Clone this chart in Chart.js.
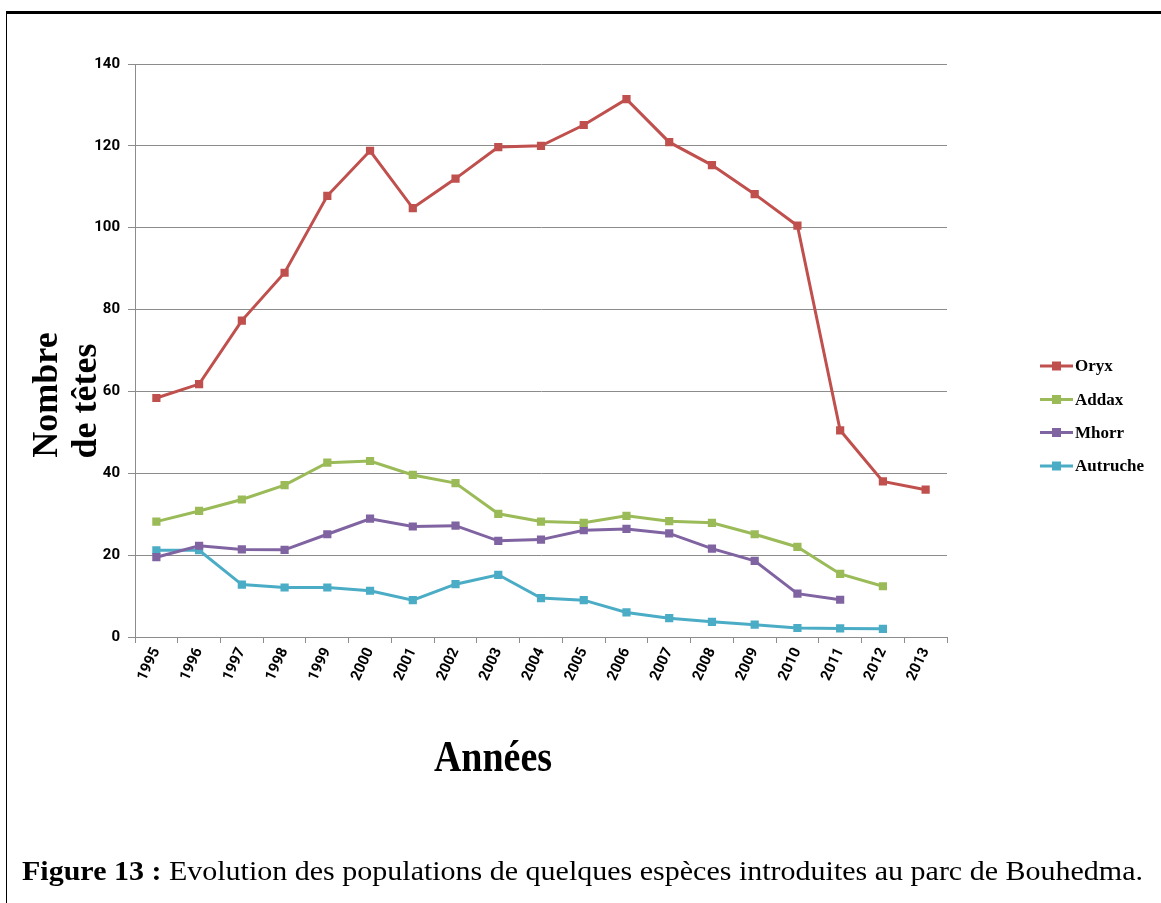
<!DOCTYPE html>
<html>
<head>
<meta charset="utf-8">
<script src="https://cdn.jsdelivr.net/npm/chart.js@4.4.1/dist/chart.umd.min.js"></script>
<style>
  html, body { margin: 0; padding: 0; background: #fff; }
  #c { display: block; }
</style>
</head>
<body>
<canvas id="c" width="1161" height="903"></canvas>
<script>
// ---- data ----
const years = ['1995','1996','1997','1998','1999','2000','2001','2002','2003','2004','2005','2006','2007','2008','2009','2010','2011','2012','2013'];
const oryx     = [58.4, 61.8, 77.3, 89.0, 107.8, 118.8, 104.8, 112.0, 119.7, 120.0, 125.1, 131.4, 120.9, 115.3, 108.2, 100.5, 50.5, 38.0, 36.0];
const addax    = [28.2, 30.8, 33.6, 37.1, 42.6, 43.0, 39.6, 37.6, 30.1, 28.2, 27.9, 29.6, 28.3, 27.9, 25.1, 22.0, 15.4, 12.4, null];
const mhorr    = [19.5, 22.3, 21.4, 21.3, 25.1, 28.9, 27.0, 27.2, 23.5, 23.8, 26.1, 26.4, 25.3, 21.6, 18.6, 10.6, 9.1, null, null];
const autruche = [21.2, 21.2, 12.8, 12.1, 12.1, 11.3, 9.0, 12.9, 15.2, 9.5, 9.0, 6.0, 4.6, 3.7, 3.0, 2.2, 2.1, 2.0, null];
const seriesNames = ['Oryx', 'Addax', 'Mhorr', 'Autruche'];
const yTicks = [0, 20, 40, 60, 80, 100, 120, 140];

const colors = ['#C0504D', '#9BBB59', '#8064A2', '#4BACC6'];
const values = [oryx, addax, mhorr, autruche];
const gridColor = '#8c8c8c';
const tickFont = { family: "'Liberation Sans Narrow', 'Arial Narrow', Roboto, sans-serif", size: 15, weight: 'bold' };

function zeroPad(s) { s.paddingTop = 0; s.paddingBottom = 0; s.paddingLeft = 0; s.paddingRight = 0; }

const decor = {
  id: 'decor',
  beforeDraw(chart) {
    const ctx = chart.ctx;
    ctx.save();
    ctx.fillStyle = '#fff';
    ctx.fillRect(0, 0, chart.width, chart.height);
    ctx.restore();
  },
  afterDraw(chart) {
    const ctx = chart.ctx;
    ctx.save();
    // frame
    ctx.fillStyle = '#000';
    ctx.fillRect(6, 11, 1161 - 6, 3);
    ctx.fillRect(6, 11, 1, 903 - 11);

    // legend
    ctx.textBaseline = 'middle';
    ctx.textAlign = 'left';
    ctx.font = "bold 17px 'Liberation Serif', 'Times New Roman', serif";
    const ly = [366, 399.5, 432.5, 466];
    seriesNames.forEach((name, i) => {
      const y = ly[i];
      ctx.strokeStyle = colors[i];
      ctx.lineWidth = 3;
      ctx.beginPath();
      ctx.moveTo(1040, y);
      ctx.lineTo(1073, y);
      ctx.stroke();
      ctx.fillStyle = colors[i];
      ctx.fillRect(1052, y - 4.5, 9, 9);
      ctx.fillStyle = '#000';
      ctx.fillText(name, 1075, y + 1);
    });

    // y axis title
    ctx.fillStyle = '#000';
    ctx.font = "bold 36px 'Liberation Serif', 'Times New Roman', serif";
    ctx.textAlign = 'center';
    ctx.textBaseline = 'alphabetic';
    ctx.save();
    ctx.translate(57, 395);
    ctx.rotate(-Math.PI / 2);
    ctx.fillText('Nombre', 0, 0);
    ctx.restore();
    ctx.save();
    ctx.translate(96, 401);
    ctx.rotate(-Math.PI / 2);
    ctx.fillText('de têtes', 0, 0);
    ctx.restore();

    // x axis title
    ctx.save();
    ctx.font = "bold 38px 'Liberation Serif', 'Times New Roman', serif";
    ctx.translate(493, 771);
    ctx.scale(1, 1.15);
    ctx.fillText('Années', 0, 0);
    ctx.restore();

    // caption
    ctx.save();
    ctx.textAlign = 'left';
    const fb = "bold 28px 'Liberation Serif', 'Times New Roman', serif";
    const fn = "28px 'Liberation Serif', 'Times New Roman', serif";
    const t1 = 'Figure 13 :';
    const t2 = ' Evolution des populations de quelques espèces introduites au parc de Bouhedma.';
    ctx.font = fb; const w1 = ctx.measureText(t1).width;
    ctx.font = fn; const w2 = ctx.measureText(t2).width;
    const sx = (1143 - 22) / (w1 + w2);
    ctx.translate(22, 880);
    ctx.scale(sx, 1);
    ctx.font = fb; ctx.fillText(t1, 0, 0);
    ctx.font = fn; ctx.fillText(t2, w1, 0);
    ctx.restore();

    ctx.restore();
  }
};

new Chart(document.getElementById('c'), {
  type: 'line',
  data: {
    labels: years,
    datasets: values.map((v, i) => ({
      label: seriesNames[i],
      data: v,
      borderColor: colors[i],
      backgroundColor: colors[i],
      borderWidth: 3,
      pointStyle: 'rect',
      pointRadius: 5.8,
      pointBorderWidth: 0,
      pointBackgroundColor: colors[i],
      tension: 0,
      spanGaps: false
    }))
  },
  options: {
    responsive: false,
    animation: false,
    devicePixelRatio: 1,
    layout: { padding: { left: 0, top: 64, right: 214, bottom: 0 } },
    plugins: { legend: { display: false }, tooltip: { enabled: false }, title: { display: false } },
    scales: {
      x: {
        type: 'category',
        offset: true,
        grid: { display: true, drawOnChartArea: false, drawTicks: true, tickLength: 6, color: gridColor, offset: true },
        border: { display: true, color: gridColor, width: 1 },
        ticks: { minRotation: 65, maxRotation: 65, autoSkip: false, padding: 2, color: '#000', font: tickFont },
        afterFit(s) { s.height = 903 - 637; zeroPad(s); }
      },
      y: {
        min: 0, max: 140,
        afterBuildTicks(s) { s.ticks = yTicks.map(v => ({ value: v })); },
        grid: { color: gridColor, lineWidth: 1, drawTicks: true, tickLength: 7 },
        border: { display: true, color: gridColor, width: 1 },
        ticks: { padding: 8, color: '#000', font: tickFont },
        afterFit(s) { s.width = 135; zeroPad(s); }
      }
    }
  },
  plugins: [decor]
});
</script>
</body>
</html>
